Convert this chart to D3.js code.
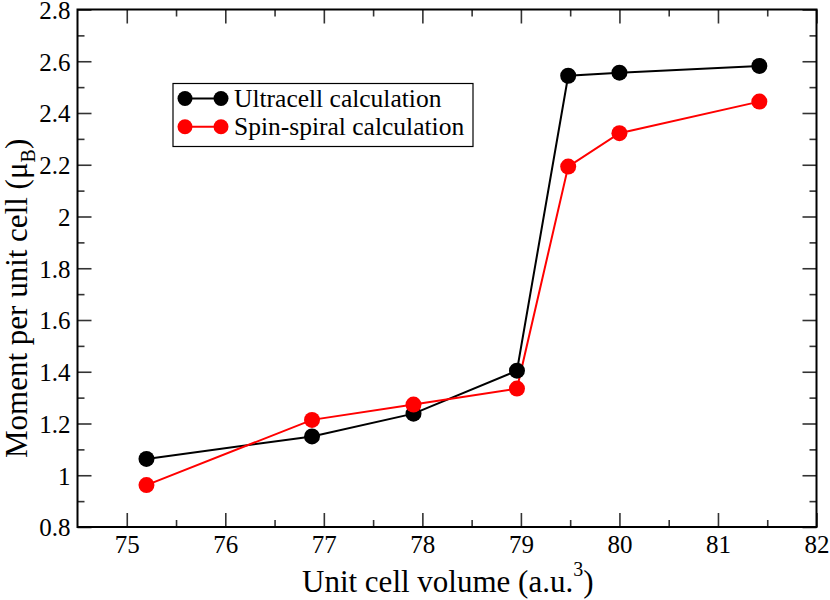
<!DOCTYPE html>
<html><head><meta charset="utf-8">
<script src="https://cdn.jsdelivr.net/npm/d3@7"></script>
<style>body{margin:0;background:#fff;}svg{display:block;}svg text{font-family:"Liberation Serif","Times New Roman",serif !important;fill:#000;}</style>
</head><body><svg id="c" width="830" height="600"></svg>
<script>
const volumes = [75.2, 76.88, 77.91, 78.96, 79.48, 80.0, 81.42];
const ultracell = [1.063, 1.150, 1.238, 1.404, 2.544, 2.556, 2.582];
const spinSpiral = [0.962, 1.214, 1.273, 1.335, 2.193, 2.322, 2.444];
const seriesNames = ["Ultracell calculation", "Spin-spiral calculation"];
const seriesColors = ["#000000", "#ff0000"];
const xTicks = [75, 76, 77, 78, 79, 80, 81, 82];
const yTicks = [0.8, 1, 1.2, 1.4, 1.6, 1.8, 2, 2.2, 2.4, 2.6, 2.8];

const svg = d3.select("#c");
const L = 77.5, R = 816.5, T = 9.5, B = 527;
const x = d3.scaleLinear().domain([74.5, 82]).range([L, R]);
const y = d3.scaleLinear().domain([0.8, 2.8]).range([B, T]);

function mkAxis(gen, tr, ticks, len, labels) {
  const g = svg.append("g").attr("transform", tr)
    .call(gen.tickValues(ticks).tickSizeInner(len).tickSizeOuter(0).tickFormat(labels ? d3.format("") : ""));
  g.attr("font-family", null).attr("font-size", null);
  g.select(".domain").remove();
  g.selectAll(".tick line").attr("stroke", "#333").attr("stroke-width", 1.6);
  return g;
}
const xMinor = d3.range(75, 82, 1).map(v => v + 0.5);
const yMinor = d3.range(0, 10).map(i => 0.9 + i * 0.2);
// bottom
const gxb = mkAxis(d3.axisTop(x), `translate(0,${B})`, xTicks, 14, true);
gxb.selectAll(".tick text").attr("y", 26).attr("dy", 0).style("font-size", "25px");
mkAxis(d3.axisTop(x), `translate(0,${B})`, xMinor, 7, false);
// top
mkAxis(d3.axisBottom(x), `translate(0,${T})`, xTicks, 14, false);
mkAxis(d3.axisBottom(x), `translate(0,${T})`, xMinor, 7, false);
// left
const gyl = mkAxis(d3.axisRight(y), `translate(${L},0)`, yTicks, 14, true);
gyl.selectAll(".tick text").attr("x", -7).attr("text-anchor", "end").attr("dy", "0.35em")
   .style("font-size", "25px");
mkAxis(d3.axisRight(y), `translate(${L},0)`, yMinor, 7, false);
// right
mkAxis(d3.axisLeft(y), `translate(${R},0)`, yTicks, 14, false);
mkAxis(d3.axisLeft(y), `translate(${R},0)`, yMinor, 7, false);

// frame
svg.append("rect").attr("x", L).attr("y", T).attr("width", R - L).attr("height", B - T)
  .attr("fill", "none").attr("stroke", "#000").attr("stroke-width", 2);

// series
const allSeries = [ultracell, spinSpiral];
const line = d3.line().x((d, i) => x(volumes[i])).y(d => y(d));
allSeries.forEach((s, k) => {
  svg.append("path").datum(s).attr("d", line).attr("fill", "none")
    .attr("stroke", seriesColors[k]).attr("stroke-width", 2);
});
allSeries.forEach((s, k) => {
  svg.append("g").selectAll("circle").data(s).join("circle")
    .attr("cx", (d, i) => x(volumes[i])).attr("cy", d => y(d)).attr("r", 8)
    .attr("fill", seriesColors[k]);
});

// legend
const lg = svg.append("g");
lg.append("rect").attr("x", 173).attr("y", 83.5).attr("width", 300).attr("height", 63)
  .attr("fill", "#fff").attr("stroke", "#000").attr("stroke-width", 1.2);
seriesNames.forEach((n, k) => {
  const yy = 98.5 + k * 28.3;
  lg.append("line").attr("x1", 185).attr("x2", 221).attr("y1", yy).attr("y2", yy)
    .attr("stroke", seriesColors[k]).attr("stroke-width", 2);
  lg.append("circle").attr("cx", 185).attr("cy", yy).attr("r", 7.5).attr("fill", seriesColors[k]);
  lg.append("circle").attr("cx", 221).attr("cy", yy).attr("r", 7.5).attr("fill", seriesColors[k]);
  lg.append("text").attr("x", 234).attr("y", yy + 8.5).style("font-size", "25.5px").text(n);
});

// axis titles
const xt = svg.append("text").attr("x", 302).attr("y", 592).attr("text-anchor", "start")
  .style("font-size", "31px");
xt.append("tspan").text("Unit cell volume (a.u.");
xt.append("tspan").style("font-size", "20px").attr("dy", -16).text("3");
xt.append("tspan").attr("dy", 16).text(")");

const yt = svg.append("text").attr("transform", `translate(27,458) rotate(-90)`)
  .attr("text-anchor", "start").style("font-size", "31px");
yt.append("tspan").text("Moment per unit cell (μ");
yt.append("tspan").style("font-size", "20px").attr("dy", 8).text("B");
yt.append("tspan").attr("dy", -8).text(")");
</script></body></html>
